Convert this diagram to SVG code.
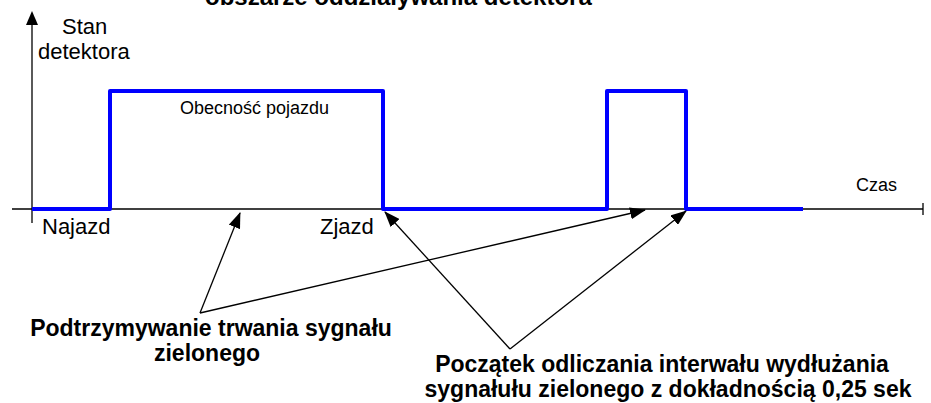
<svg xmlns="http://www.w3.org/2000/svg" width="931" height="403" viewBox="0 0 931 403">
  <style>
    .lbl { font-family: "Liberation Sans", Arial, sans-serif; fill: #000; }
    .big { font-size: 22px; }
    .small { font-size: 18px; }
    .bold { font-size: 23px; font-weight: bold; }
    .axis { stroke: #000; stroke-width: 1.3; fill: none; }
    .pointer { stroke: #000; stroke-width: 1.3; fill: none; marker-end: url(#head); }
    .signal { stroke: #0000ff; stroke-width: 4; fill: none; stroke-linejoin: round; }
  </style>
  <defs>
    <marker id="head" markerUnits="userSpaceOnUse" markerWidth="16" markerHeight="12" refX="15" refY="6" orient="auto">
      <path d="M0,0 L16,6 L0,12 Z" fill="#000"/>
    </marker>
  </defs>
  <rect width="931" height="403" fill="#fff"/>

  <!-- heading, clipped at the top edge -->
  <text class="lbl bold" x="205" y="5" style="font-size:24px">obszarze oddziaływania detektora</text>

  <!-- axes -->
  <g id="axes">
    <line class="axis" x1="32" y1="223" x2="32" y2="22"/>
    <path d="M32,11 L38,25 L26,25 Z" fill="#000"/>
    <line class="axis" x1="12" y1="209" x2="923" y2="209"/>
    <line class="axis" x1="923" y1="203" x2="923" y2="215"/>
    <text class="lbl big" x="62" y="34">Stan</text>
    <text class="lbl big" x="38" y="59">detektora</text>
    <text class="lbl small" x="856" y="191">Czas</text>
  </g>

  <!-- detector state -->
  <g id="signal">
    <path class="signal" d="M32,209 H110 V91 H383 V209 H607 V91 H686 V209 H803"/>
    <text class="lbl small" x="180" y="114">Obecność pojazdu</text>
    <text class="lbl big" x="42" y="234">Najazd</text>
    <text class="lbl big" x="320" y="234">Zjazd</text>
  </g>

  <!-- pointers -->
  <g id="connectors">
    <line class="pointer" x1="200" y1="313" x2="240" y2="213"/>
    <line class="pointer" x1="200" y1="313" x2="645" y2="210"/>
    <line class="pointer" x1="510" y1="349" x2="385" y2="212"/>
    <line class="pointer" x1="510" y1="349" x2="686" y2="211"/>
  </g>

  <g id="hold-note">
    <text class="lbl bold" x="211" y="336" text-anchor="middle">Podtrzymywanie trwania sygnału</text>
    <text class="lbl bold" x="207" y="361" text-anchor="middle">zielonego</text>
  </g>

  <g id="start-note">
    <text class="lbl bold" x="662" y="372" text-anchor="middle">Początek odliczania interwału wydłużania</text>
    <text class="lbl bold" x="668" y="397" text-anchor="middle">sygnałułu zielonego z dokładnością 0,25 sek</text>
  </g>
</svg>
